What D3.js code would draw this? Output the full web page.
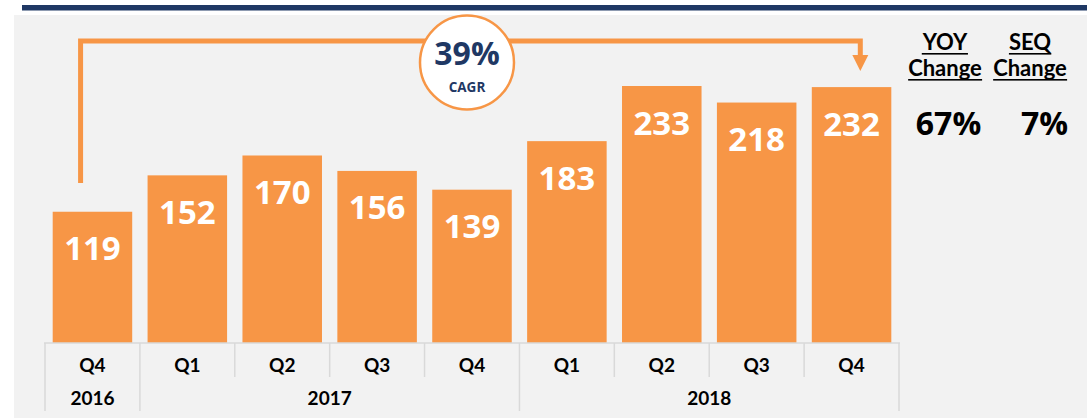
<!DOCTYPE html>
<html>
<head>
<meta charset="utf-8">
<script src="https://cdn.jsdelivr.net/npm/d3@7"></script>
<style>
  body { margin: 0; background: #ffffff; }
  svg { display: block; }
</style>
</head>
<body>
<div id="chart"></div>
<script>
var w = 1087; // page width
var h = 418;  // page height

// chart data
var quarters = ["Q4", "Q1", "Q2", "Q3", "Q4", "Q1", "Q2", "Q3", "Q4"];
var values = [119, 152, 170, 156, 139, 183, 233, 218, 232];
var years = ["2016", "2017", "2018"];
var yearSpans = [[0, 0], [1, 4], [5, 8]]; // first and last bar index of each year
var cagrLabel = "39%";
var changeHeads = ["YOY", "SEQ"];
var changeValues = ["67%", "7%"];

var orange = "#F79646";
var navy = "#1F3864";
var gridGray = "#D9D9D9";

var svg = d3.select("#chart")
    .append("svg")
    .attr("width", w)
    .attr("height", h);

// panel and top rule
svg.append("rect").attr("x", 14).attr("y", 15).attr("width", w - 14).attr("height", h - 15).attr("fill", "#F2F2F2");
svg.append("rect").attr("x", 22).attr("y", 5).attr("width", w - 22).attr("height", 5.5).attr("fill", navy);

var keys = quarters.map(function(d, i) { return i; });

var xScale = d3.scaleBand()
    .domain(keys)
    .range([45, 899])
    .paddingInner(0.162)
    .paddingOuter(0.081);

var yScale = d3.scaleLinear()
    .domain([0, 233])
    .range([343, 86]);

var step = xScale.step();
var x0 = xScale.range()[0];

// bars
svg.selectAll("rect.bar")
    .data(values)
    .enter()
    .append("rect")
    .attr("class", "bar")
    .attr("x", function(d, i) { return xScale(i); })
    .attr("y", function(d) { return yScale(d); })
    .attr("width", xScale.bandwidth())
    .attr("height", function(d) { return yScale(0) - yScale(d); })
    .attr("fill", orange);

// value labels
svg.selectAll("text.val")
    .data(values)
    .enter()
    .append("text")
    .attr("class", "val")
    .attr("x", function(d, i) { return xScale(i) + xScale.bandwidth() / 2; })
    .attr("y", function(d) { return yScale(d) + 48.5; })
    .attr("text-anchor", "middle")
    .attr("font-family", "Open Sans")
    .attr("font-weight", 700)
    .attr("font-size", 33)
    .attr("fill", "#ffffff")
    .text(function(d) { return d; });

// category axis (two levels)
var axis = svg.append("g").attr("stroke", gridGray).attr("stroke-width", 1.5);
axis.append("line").attr("x1", x0 - 1).attr("x2", x0 + step * quarters.length + 1)
    .attr("y1", yScale(0)).attr("y2", yScale(0));

var yearEdges = yearSpans.map(function(s) { return s[0]; }).concat([quarters.length]);
for (var i = 0; i <= quarters.length; i++) {
    var isYearEdge = yearEdges.indexOf(i) >= 0;
    axis.append("line")
        .attr("x1", x0 + step * i).attr("x2", x0 + step * i)
        .attr("y1", yScale(0)).attr("y2", isYearEdge ? 411 : 377);
}

svg.selectAll("text.q")
    .data(quarters)
    .enter()
    .append("text")
    .attr("class", "q")
    .attr("x", function(d, i) { return xScale(i) + xScale.bandwidth() / 2; })
    .attr("y", 372)
    .attr("text-anchor", "middle")
    .attr("font-family", "Lato")
    .attr("font-weight", 700)
    .attr("font-size", 19)
    .attr("fill", "#000")
    .text(function(d) { return d; });

svg.selectAll("text.yr")
    .data(years)
    .enter()
    .append("text")
    .attr("class", "yr")
    .attr("x", function(d, i) { return x0 + step * (yearSpans[i][0] + yearSpans[i][1] + 1) / 2; })
    .attr("y", 405)
    .attr("text-anchor", "middle")
    .attr("font-family", "Lato")
    .attr("font-weight", 700)
    .attr("font-size", 19)
    .attr("fill", "#000")
    .text(function(d) { return d; });

// CAGR arrow from first to last bar
var xFirst = x0 + step * 0.375;
var xLast = xScale(values.length - 1) + xScale.bandwidth() * 0.61;
var arrowY = 41;
svg.append("path")
    .attr("d", "M" + xFirst + "," + 183 + "V" + arrowY + "H" + xLast + "V" + 56)
    .attr("fill", "none")
    .attr("stroke", orange)
    .attr("stroke-width", 5);
svg.append("path")
    .attr("d", "M" + (xLast - 8) + ",55L" + (xLast + 8) + ",55L" + xLast + ",71Z")
    .attr("fill", orange);

svg.append("circle")
    .attr("cx", 467).attr("cy", 62.5).attr("r", 47)
    .attr("fill", "#fff")
    .attr("stroke", orange)
    .attr("stroke-width", 2.5);
svg.append("text")
    .attr("x", 467).attr("y", 65)
    .attr("text-anchor", "middle")
    .attr("font-family", "Open Sans").attr("font-weight", 700).attr("font-size", 32)
    .attr("fill", navy)
    .text(cagrLabel);
svg.append("text")
    .attr("x", 467).attr("y", 92)
    .attr("text-anchor", "middle")
    .attr("font-family", "Open Sans").attr("font-weight", 700).attr("font-size", 13.5)
    .attr("fill", navy)
    .text("CAGR");

// change columns on the right
var colX = [945, 1030];
changeHeads.forEach(function(head, i) {
    var g = svg.append("g").attr("font-family", "Lato").attr("font-weight", 700)
        .attr("font-size", 22).attr("fill", "#000").attr("text-anchor", "middle");
    var t1 = g.append("text").attr("x", colX[i]).attr("y", 50).text(head);
    var t2 = g.append("text").attr("x", colX[i]).attr("y", 76).text("Change");
    [t1, t2].forEach(function(t) {
        var b = t.node().getBBox();
        var yy = +t.attr("y") + 3;
        g.append("rect").attr("x", b.x).attr("y", yy).attr("width", b.width).attr("height", 1.6).attr("fill", "#000");
    });
});

svg.selectAll("text.chg")
    .data(changeValues)
    .enter()
    .append("text")
    .attr("class", "chg")
    .attr("x", function(d, i) { return [948.5, 1044.5][i]; })
    .attr("y", 135)
    .attr("text-anchor", "middle")
    .attr("font-family", "Open Sans")
    .attr("font-weight", 700)
    .attr("font-size", 32)
    .attr("fill", "#000")
    .text(function(d) { return d; });
</script>
</body>
</html>
